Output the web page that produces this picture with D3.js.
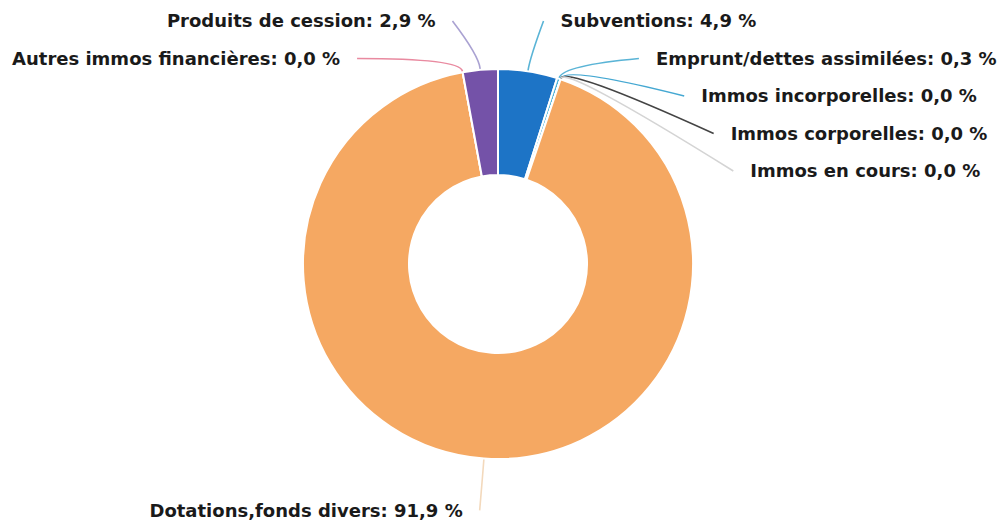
<!DOCTYPE html>
<html>
<head>
<meta charset="utf-8">
<script src="https://cdn.jsdelivr.net/npm/d3@7"></script>
<style>
  body { margin: 0; background: #fff; }
  svg { display: block; }
  .lbl { font-family: "DejaVu Sans", Verdana, sans-serif; font-weight: bold; font-size: 18px; fill: #1a1a1a; }
</style>
</head>
<body>
<div id="chart"></div>
<script>
// data, clockwise from 12 o'clock
const categories = [
    "Subventions",
    "Emprunt/dettes assimilées",
    "Immos incorporelles",
    "Immos corporelles",
    "Immos en cours",
    "Dotations,fonds divers",
    "Autres immos financières",
    "Produits de cession"
];
const values = [4.9, 0.3, 0.0, 0.0, 0.0, 91.9, 0.0, 2.9];

const sliceColors = ["#1d74c6", "#4fb2d8", "#3a9fce", "#3b3b3b", "#c9c9c9", "#f5a862", "#e8728e", "#7452a8"];
const lineColors  = ["#5ab4d6", "#5ab4d6", "#45a8d2", "#444444", "#d4d4d4", "#f3d9bc", "#e98aa0", "#aaa2d2"];

const width = 998, height = 524;
const cx = 498, cy = 264;
const outerR = 195, innerR = 89;
// connector ends sit on an ellipse round the pie, text a bit further out
const endRx = 254, endRy = 247;
const textPad = 17;
const labelGap = 37.5, labelTop = 21;

const svg = d3.select("#chart")
    .append("svg")
    .attr("width", width)
    .attr("height", height);

const g = svg.append("g")
    .attr("transform", `translate(${cx},${cy})`);

const data = categories.map((c, i) => ({name: c, value: values[i], i: i}));

const pie = d3.pie()
    .sort(null)
    .value(d => d.value);

const arcs = pie(data);

const arc = d3.arc()
    .innerRadius(innerR)
    .outerRadius(outerR);

g.selectAll("path.slice")
    .data(arcs)
    .enter().append("path")
    .attr("class", "slice")
    .attr("d", arc)
    .attr("fill", d => sliceColors[d.index])
    .attr("stroke", "#fff")
    .attr("stroke-width", 2);

// label layout
let labels = arcs.map(d => {
    let a = (d.startAngle + d.endAngle) / 2;
    return {
        d: d,
        a: a,
        right: Math.sin(a) >= 0,
        y: -endRy * Math.cos(a)
    };
});

// push top labels down so they don't overlap
function spread(list) {
    let top = list.filter(l => l.y < 0).sort((p, q) => p.y - q.y);
    let minY = labelTop - cy;
    top.forEach(l => {
        if (l.y < minY) l.y = minY;
        minY = l.y + labelGap;
    });
}
spread(labels.filter(l => l.right));
spread(labels.filter(l => !l.right));

labels.forEach(l => {
    let k = Math.max(0, 1 - (l.y * l.y) / (endRy * endRy));
    let dx = endRx * Math.sqrt(k);
    l.ex = l.right ? dx : -dx;
    l.x = l.right ? l.ex + textPad : l.ex - textPad;
});

g.selectAll("path.conn")
    .data(labels)
    .enter().append("path")
    .attr("class", "conn")
    .attr("fill", "none")
    .attr("stroke", l => lineColors[l.d.index])
    .attr("stroke-width", 1.6)
    .attr("d", l => {
        let sx = Math.sin(l.a), sy = -Math.cos(l.a);
        let p0 = [sx * (outerR + 1), sy * (outerR + 1)];
        let p1 = [sx * (outerR + 14), sy * (outerR + 14)];
        let end = [l.ex, l.y];
        return "M" + p0 + "Q" + p1 + " " + end;
    });

g.selectAll("text.lbl")
    .data(labels)
    .enter().append("text")
    .attr("class", "lbl")
    .attr("x", l => l.x)
    .attr("y", l => l.y)
    .attr("dy", "0.36em")
    .attr("text-anchor", l => l.right ? "start" : "end")
    .text(l => l.d.data.name + ": " + d3.format(".1f")(l.d.data.value).replace(".", ",") + " %");
</script>
</body>
</html>
